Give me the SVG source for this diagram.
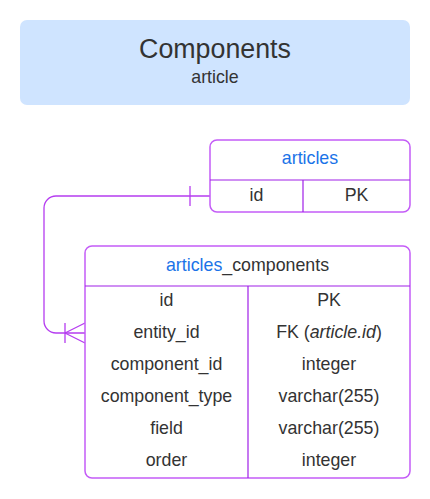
<svg xmlns="http://www.w3.org/2000/svg" width="430" height="499" viewBox="0 0 430 499">
<style>
text{font-family:"Liberation Sans",Arial,sans-serif;fill:#333;text-anchor:middle;dominant-baseline:central}
.t{font-size:17.8px}
.blue{fill:#1a73e8}
.outer{fill:#fff;stroke:#c45cf7;stroke-width:1.5}
.inner{stroke:#a020e8;stroke-width:1.2;fill:none}
.conn{stroke:#b53cf0;stroke-width:1.3;fill:none}
</style>
<rect width="430" height="499" fill="#fff"/>
<g id="title">
<rect x="20" y="20" width="390" height="85" rx="7" fill="#cfe4ff"/>
<text x="215" y="49" style="font-size:26.8px">Components</text>
<text x="215" y="77" class="t">article</text>
</g>
<g id="connectors">
<path class="conn" d="M210,196 H56 A12,12 0 0 0 44,208 V321 A12,12 0 0 0 56,333 H85"/>
<path class="conn" d="M190,186 V206"/>
<path class="conn" d="M65,323 V343 M65,333 L85,323 M65,333 L85,343"/>
</g>
<g id="articles">
<rect class="outer" x="210" y="140" width="200" height="72" rx="7"/>
<path class="inner" d="M210,180 H410 M303,180 V212"/>
<text x="310" y="158" class="t blue">articles</text>
<text x="256.5" y="195" class="t">id</text>
<text x="356.5" y="195" class="t">PK</text>
</g>
<g id="articles_components">
<rect class="outer" x="85" y="246" width="325" height="232" rx="7"/>
<path class="inner" d="M85,286 H410 M248,286 V478"/>
<text x="247.5" y="265" class="t"><tspan class="blue">articles</tspan>_components</text>
<text x="166.5" y="300" class="t">id</text>
<text x="329" y="300" class="t">PK</text>
<text x="166.5" y="332" class="t">entity_id</text>
<text x="329" y="332" class="t">FK (<tspan font-style="italic">article.id</tspan>)</text>
<text x="166.5" y="364" class="t">component_id</text>
<text x="329" y="364" class="t">integer</text>
<text x="166.5" y="396" class="t">component_type</text>
<text x="329" y="396" class="t">varchar(255)</text>
<text x="166.5" y="428" class="t">field</text>
<text x="329" y="428" class="t">varchar(255)</text>
<text x="166.5" y="460" class="t">order</text>
<text x="329" y="460" class="t">integer</text>
</g>
</svg>
